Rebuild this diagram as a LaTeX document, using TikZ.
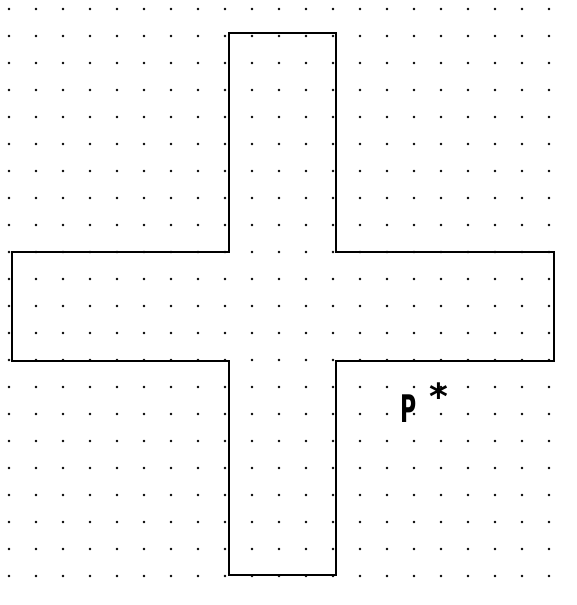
\documentclass[tikz,border=0pt]{standalone}
\usepackage{fontspec}
\setmainfont{Liberation Sans}
\newfontfamily\labelfont{DejaVu Sans}
\usepackage{tikz}
\usetikzlibrary{positioning}

\begin{document}
\begin{tikzpicture}[x=1pt,y=-1pt,
                      griddot/.style={fill=black},
                      outline/.style={draw=black, line width=2pt, line join=miter},
                      pointlabel/.style={inner sep=0pt, xscale=0.58, transform shape, font=\labelfont\fontsize{38}{38}\selectfont\bfseries},
                      starlabel/.style={inner sep=0pt, font=\labelfont\fontsize{36}{36}\selectfont\bfseries},
                  ]
                  \useasboundingbox (0,0) rectangle (576,605);
                  %Dots
                  \foreach \i in {0,...,20}
                      \foreach \j in {0,...,21}
                          \fill[griddot] (9+27*\i,9+27*\j) circle (1.4);

                  %Cross
                  \draw[outline] (229,33) -- (336,33) -- (336,252) -- (554,252)
                      -- (554,361) -- (336,361) -- (336,575) -- (229,575)
                      -- (229,361) -- (12,361) -- (12,252) -- (229,252) -- cycle;

                  %Label
                  \node[pointlabel, anchor=south west] (p)    at (400,423)         {P};
                  \node[starlabel, anchor=north]        (star) at (439,383)         {*};
\end{tikzpicture}
\end{document}
